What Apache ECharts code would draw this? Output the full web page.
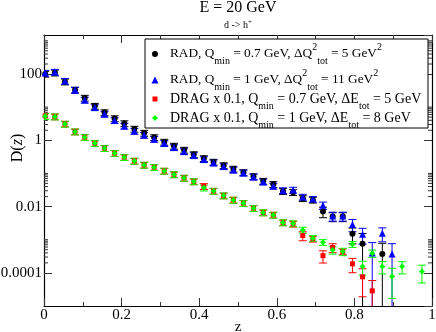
<!DOCTYPE html>
<html>
<head>
<meta charset="utf-8">
<script src="https://cdn.jsdelivr.net/npm/echarts@6/dist/echarts.min.js"></script>
<style>html,body{margin:0;padding:0;background:#fff}#main{width:436px;height:332px}</style>
</head>
<body>
<div id="main"></div>
<script>
var zVals = [0.003, 0.028, 0.054, 0.080, 0.105, 0.131, 0.156, 0.182, 0.207, 0.233,
  0.258, 0.284, 0.310, 0.335, 0.361, 0.386, 0.412, 0.437, 0.463, 0.488,
  0.514, 0.540, 0.565, 0.591, 0.616, 0.642, 0.667, 0.693, 0.719, 0.744,
  0.770, 0.795, 0.821, 0.846, 0.872, 0.897, 0.923, 0.948, 0.974];

// RAD, Qmin = 0.7 GeV (black)
var radQ07 = [100, 109, 58.6, 33, 18.9, 10.8, 6.9, 4.55, 3.22, 2.2,
  1.66, 1.22, 0.89, 0.675, 0.51, 0.374, 0.284, 0.222, 0.174, 0.137,
  0.107, 0.081, 0.059, 0.047, 0.029, 0.027, 0.0177, 0.0159, 0.0071, 0.005,
  0.005, 0.0015, 0.00075, null, 0.00037, null, null, null, null];
var radQ07Err = [0.2, 0.2, 0.2, 0.2, 0.2, 0.2, 0.2, 0.2, 0.2, 0.2,
  0.2, 0.2, 0.2, 0.2, 0.2, 0.2, 0.2, 0.2, 0.2, 0.2,
  0.2, 0.2, 0.2, 0.2, 0.2, 0.2, 0.2, 0.2, 0.35, 0.3,
  0.3, 0.5, 1.05, null, 1.1, null, null, null, null];

// RAD, Qmin = 1 GeV (blue)
var radQ1 = [107, 115, 61, 33, 16.5, 9.8, 6.23, 3.99, 2.71, 1.9,
  1.44, 1.09, 0.81, 0.61, 0.46, 0.35, 0.265, 0.21, 0.163, 0.128,
  0.104, 0.079, 0.056, 0.042, 0.0306, 0.0318, 0.0195, 0.0168, 0.0109, 0.0052,
  0.0052, 0.0029, 0.00147, 0.0004, 0.00157, 0.00037, null, null, null];
var radQ1Err = [0.2, 0.2, 0.2, 0.2, 0.2, 0.2, 0.2, 0.2, 0.2, 0.2,
  0.2, 0.2, 0.2, 0.2, 0.2, 0.2, 0.2, 0.2, 0.2, 0.2,
  0.2, 0.2, 0.2, 0.2, 0.2, 0.2, 0.2, 0.2, 0.25, 0.3,
  0.3, 0.4, 0.5, 1.05, 0.45, 1.05, null, null, null];

// DRAG x 0.1, Qmin = 0.7 GeV (red)
var drag07 = [5.42, 5.16, 3.11, 1.82, 1.24, 0.81, 0.575, 0.407, 0.308, 0.238,
  0.18, 0.154, 0.119, 0.093, 0.073, 0.057, 0.041, 0.0295, 0.0214, 0.0159,
  0.0126, 0.0089, 0.0066, 0.0056, 0.0033, 0.0030, 0.00133, 0.00106, 0.00033, 0.00058,
  0.00044, 0.000187, 0.000076, 0.0000287, null, null, null, null, null];
var drag07Err = [0.2, 0.2, 0.2, 0.2, 0.2, 0.2, 0.2, 0.2, 0.2, 0.2,
  0.2, 0.2, 0.2, 0.2, 0.2, 0.2, 0.2, 0.2, 0.2, 0.2,
  0.2, 0.2, 0.2, 0.2, 0.2, 0.2, 0.3, 0.2, 0.4, 0.3,
  0.2, 0.46, 0.75, 1.05, null, null, null, null, null];

// DRAG x 0.1, Qmin = 1 GeV (green)
var drag1 = [5.3, 5.16, 3.11, 1.82, 1.24, 0.81, 0.575, 0.407, 0.308, 0.238,
  0.18, 0.154, 0.119, 0.093, 0.073, 0.057, 0.037, 0.0295, 0.0214, 0.0159,
  0.0126, 0.0089, 0.0066, 0.0056, 0.0033, 0.0031, 0.00198, 0.00111, 0.00084, 0.00049,
  0.00044, 0.00073, 0.000155, 0.00039, 0.000155, 0.0000775, 0.000155, null, 0.00011];
var drag1Err = [0.2, 0.2, 0.2, 0.2, 0.2, 0.2, 0.2, 0.2, 0.2, 0.2,
  0.2, 0.2, 0.2, 0.2, 0.2, 0.2, 0.2, 0.2, 0.2, 0.2,
  0.2, 0.2, 0.2, 0.2, 0.2, 0.2, 0.2, 0.2, 0.2, 0.25,
  0.25, 0.2, 0.45, 0.25, 0.4, 0.78, 0.4, null, 0.55];

var yMajors = [0.0001, 0.01, 1, 100];
var yMin = 1e-5, yMax = 1500;

var serif = 'Liberation Serif';

var legendText = {
  'RAD 0.7': 'RAD, Q{sub|min} = 0.7 GeV, \u0394Q{sup|2}{sub|tot} = 5 GeV{sup|2}',
  'RAD 1': 'RAD, Q{sub|min} = 1 GeV, \u0394Q{sup|2}{sub|tot} = 11 GeV{sup|2}',
  'DRAG 0.7': 'DRAG x 0.1, Q{sub|min} = 0.7 GeV, \u0394E{sub|tot} = 5 GeV',
  'DRAG 1': 'DRAG x 0.1, Q{sub|min} = 1 GeV, \u0394E{sub|tot} = 8 GeV'
};
// name, row centre y, symbol size, font size
var legendRows = [['RAD 0.7', 54, 6, 13.3], ['RAD 1', 80, 7, 13.3], ['DRAG 0.7', 99, 5, 14], ['DRAG 1', 118, 6, 14]];

function points(vals) {
  var out = [];
  vals.forEach(function (v, i) { if (v != null) out.push([zVals[i], v]); });
  return out;
}
function bars(vals, errs) {
  var out = [];
  vals.forEach(function (v, i) {
    if (v != null) out.push([zVals[i], v * (1 - errs[i]), v * (1 + errs[i])]);
  });
  return out;
}

function errorSeries(name, vals, errs, color) {
  return {
    type: 'custom', name: name, silent: true, clip: true,
    data: bars(vals, errs),
    encode: { x: 0, y: [1, 2] },
    renderItem: function (params, api) {
      var x = api.value(0), lo = api.value(1), hi = api.value(2);
      var cut = lo <= yMin;
      var top = api.coord([x, hi]);
      var bot = api.coord([x, cut ? yMin : lo]);
      var st = { stroke: color, lineWidth: 1 };
      var kids = [
        { type: 'line', shape: { x1: top[0], y1: top[1], x2: bot[0], y2: bot[1] }, style: st },
        { type: 'line', shape: { x1: top[0] - 4, y1: top[1], x2: top[0] + 4, y2: top[1] }, style: st }
      ];
      if (!cut) kids.push({ type: 'line', shape: { x1: bot[0] - 4, y1: bot[1], x2: bot[0] + 4, y2: bot[1] }, style: st });
      return { type: 'group', children: kids };
    }
  };
}

function markSeries(name, vals, symbol, size, color) {
  return {
    type: 'scatter', name: name, data: points(vals), symbol: symbol, symbolSize: size,
    itemStyle: { color: color, opacity: 1 }, silent: true, z: 3
  };
}

// log-axis minor ticks: major * 2..10
var minorVals = [];
yMajors.forEach(function (m) {
  for (var k = 2; k <= 10; k++) minorVals.push(m * k);
});

var tickStyle = { color: '#333', width: 1 };
var lineStyle = { color: '#000', width: 1.2 };

var dom = document.getElementById('main');
var myChart = echarts.init(dom);
var option = {
  animation: false,
  backgroundColor: '#fff',
  title: [
    { text: 'E = 20 GeV', left: 238, top: 0, textAlign: 'center', padding: 0,
      textStyle: { fontFamily: serif, fontSize: 16, fontWeight: 'normal', color: '#000' } },
    { text: 'd -> h{sup|+}', left: 238, top: 19, textAlign: 'center', padding: 0,
      textStyle: { fontFamily: serif, fontSize: 10, fontWeight: 'normal', color: '#000',
        rich: { sup: { fontFamily: serif, fontSize: 7, padding: [0, 0, 6, 0] } } } }
  ],
  grid: { left: 44, right: 4, top: 35, bottom: 26, outerBoundsMode: 'none', containLabel: false },
  legend: legendRows.map(function (r) {
    var small = Math.round(r[3] * 0.72);
    return {
      data: [r[0]], orient: 'vertical', left: 155 - r[2] / 2, top: r[1] - 12, padding: 0,
      itemWidth: r[2], itemHeight: r[2], selectedMode: false, z: 6,
      formatter: function (n) { return legendText[n]; },
      textStyle: {
        fontFamily: serif, fontSize: r[3], color: '#000', lineHeight: 24,
        padding: [0, 0, 0, 10 - r[2] / 2],
        rich: {
          sub: { fontFamily: serif, fontSize: small, verticalAlign: 'bottom' },
          sup: { fontFamily: serif, fontSize: small, verticalAlign: 'top' }
        }
      }
    };
  }),
  graphic: [
    { type: 'rect', z: 5, shape: { x: 145, y: 39, width: 283, height: 89 },
      style: { fill: '#fff', stroke: '#000', lineWidth: 1 } },
    { type: 'text', x: 18, y: 148, rotation: Math.PI / 2,
      style: { text: 'D({i|z})', fontFamily: serif, fontSize: 16, fill: '#000',
        align: 'center', verticalAlign: 'middle',
        rich: { i: { fontFamily: serif, fontSize: 16, fontStyle: 'italic' } } } }
  ],
  xAxis: [
    { type: 'value', min: 0, max: 1, interval: 0.2, position: 'bottom',
      name: 'z', nameLocation: 'middle', nameGap: 14, nameMoveOverlap: false,
      nameTextStyle: { fontFamily: serif, fontSize: 15, color: '#000' },
      axisLine: { onZero: false, lineStyle: lineStyle },
      axisTick: { inside: true, length: 8, lineStyle: tickStyle },
      minorTick: { show: true, splitNumber: 2, length: 4, lineStyle: tickStyle },
      axisLabel: { margin: 2, fontFamily: serif, fontSize: 15, color: '#000' },
      splitLine: { show: false } },
    { type: 'value', min: 0, max: 1, interval: 0.2, position: 'top',
      axisLine: { onZero: false, lineStyle: lineStyle },
      axisTick: { inside: true, length: 8, lineStyle: tickStyle },
      minorTick: { show: true, splitNumber: 2, length: 4, lineStyle: tickStyle },
      axisLabel: { show: false }, splitLine: { show: false } }
  ],
  yAxis: [
    { type: 'log', logBase: 100, min: yMin, max: yMax, position: 'left',
      axisLine: { onZero: false, lineStyle: lineStyle },
      axisTick: { inside: true, length: 8, lineStyle: tickStyle },
      axisLabel: { margin: 2, fontFamily: serif, fontSize: 15, color: '#000',
        showMinLabel: false, showMaxLabel: false,
        formatter: function (v) { return String(+(+v).toPrecision(3)); } },
      splitLine: { show: false } },
    { type: 'log', logBase: 100, min: yMin, max: yMax, position: 'right',
      axisLine: { onZero: false, lineStyle: lineStyle },
      axisTick: { inside: true, length: 8, lineStyle: tickStyle },
      axisLabel: { show: false }, splitLine: { show: false } }
  ],
  series: [
    {
      type: 'custom', name: 'minor ticks', silent: true, clip: false, z: 1,
      data: minorVals.map(function (v) { return [0, v]; }),
      renderItem: function (params, api) {
        var l = api.coord([0, api.value(1)]);
        var r = api.coord([1, api.value(1)]);
        var st = { stroke: '#333', lineWidth: 1 };
        return { type: 'group', children: [
          { type: 'line', shape: { x1: l[0], y1: l[1], x2: l[0] + 4, y2: l[1] }, style: st },
          { type: 'line', shape: { x1: r[0] - 4, y1: r[1], x2: r[0], y2: r[1] }, style: st }
        ] };
      }
    },
    errorSeries('RAD 0.7 err', radQ07, radQ07Err, '#000000'),
    markSeries('RAD 0.7', radQ07, 'circle', 6, '#000000'),
    errorSeries('RAD 1 err', radQ1, radQ1Err, '#0000ff'),
    markSeries('RAD 1', radQ1, 'triangle', 7, '#0000ff'),
    errorSeries('DRAG 0.7 err', drag07, drag07Err, '#ff0000'),
    markSeries('DRAG 0.7', drag07, 'rect', 5, '#ff0000'),
    errorSeries('DRAG 1 err', drag1, drag1Err, '#00ff00'),
    markSeries('DRAG 1', drag1, 'diamond', 6, '#00ff00')
  ]
};
myChart.setOption(option);
</script>
</body>
</html>
